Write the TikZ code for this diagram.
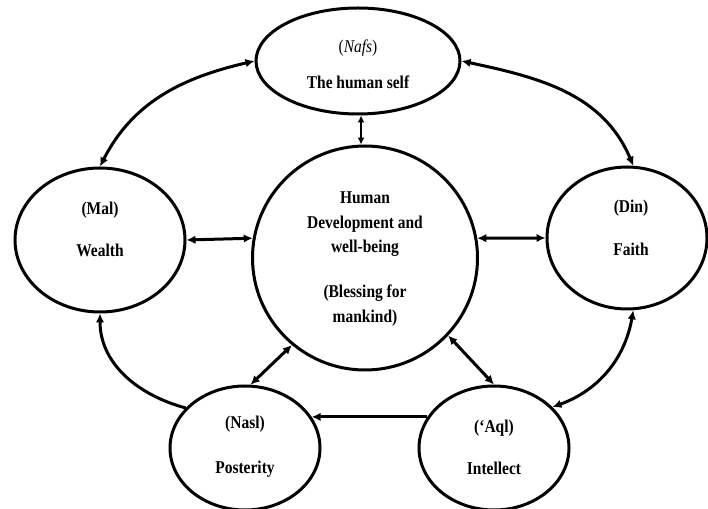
\documentclass[tikz,border=0pt]{standalone}
\usepackage{fontspec}
\setmainfont{Liberation Serif}[FakeStretch=0.86]
\usetikzlibrary{shapes.geometric,arrows.meta}
\begin{document}
\begin{tikzpicture}[x=1pt,y=1pt,
  bub/.style={draw,ellipse,line width=3pt,inner sep=0pt},
  lab/.style={anchor=base,inner sep=0pt,font=\fontsize{18}{21}\selectfont\bfseries},
  con/.style={line width=3pt,{Latex[length=9pt,width=8.5pt]}-{Latex[length=9pt,width=8.5pt]}},
  one/.style={line width=3pt,-{Latex[length=9pt,width=8.5pt]}},
  thin/.style={line width=1.5pt,{Latex[length=7pt,width=7pt]}-{Latex[length=7pt,width=7pt]}}]
\useasboundingbox (0,0) rectangle (708,508);
% bubbles
\node[bub,minimum width=204pt,minimum height=106pt] (nafs) at (358,447) {};
\node[bub,minimum width=225pt,minimum height=224pt] (hd) at (365,250) {};
\node[bub,minimum width=170pt,minimum height=144pt] (mal) at (100,268) {};
\node[bub,minimum width=160pt,minimum height=142pt] (din) at (627,270) {};
\node[bub,minimum width=150pt,minimum height=124pt] (nasl) at (245,60) {};
\node[bub,minimum width=150pt,minimum height=124pt] (aql) at (494,60) {};
% labels
\node[lab,font=\fontsize{18}{21}\selectfont] (t1a) at (358,455) {(\textit{Nafs})};
\node[lab] (t1b) at (358,419) {The human self};
\node[lab] (t2a) at (365,304) {Human};
\node[lab] (t2b) at (365,279) {Development and};
\node[lab] (t2c) at (365,255) {well-being};
\node[lab] (t2d) at (365,210) {(Blessing for};
\node[lab] (t2e) at (365,185) {mankind)};
\node[lab] (t3a) at (100,293) {(Mal)};
\node[lab] (t3b) at (100,251) {Wealth};
\node[lab] (t4a) at (631,295) {(Din)};
\node[lab] (t4b) at (631,252) {Faith};
\node[lab] (t5a) at (245,79) {(Nasl)};
\node[lab] (t5b) at (245,35) {Posterity};
\node[lab] (t6a) at (494,75) {(‘Aql)};
\node[lab] (t6b) at (494,34) {Intellect};
% connectors
\draw[thin] (nafs.south -| hd.92) -- (hd.92);
\draw[con] (mal.east) -- (hd.170);
\draw[con] (din.west) -- (hd.10);
\draw[con] (hd.230) -- (nasl.85);
\draw[con] (hd.317) -- (aql.north);
\draw[one] (aql.155) -- (nasl.25);
\draw[one] (nasl.146) to[out=165,in=-90] (mal.south);
\draw[con] (din.-85) to[out=-100,in=20] (aql.35);
\draw[con] (mal.north) to[out=63,in=193] (nafs.west);
\draw[con] (nafs.east) to[out=-12,in=113] (din.85);
\end{tikzpicture}
\end{document}
